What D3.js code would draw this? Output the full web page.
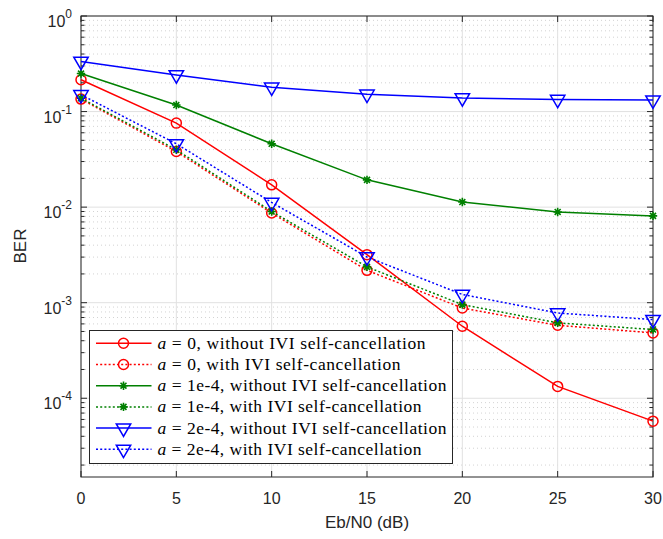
<!DOCTYPE html>
<html><head><meta charset="utf-8">
<script src="https://cdn.jsdelivr.net/npm/d3@7"></script>
<style>body{margin:0;background:#fff}svg{display:block}</style>
</head><body><svg id="c" width="663" height="539"></svg>
<script>
const snr = [0, 5, 10, 15, 20, 25, 30];
const a0Without = [0.215, 0.0757, 0.0171, 0.00318, 5.67e-4, 1.33e-4, 5.76e-5];
const a0With    = [0.135, 0.0382, 0.00867, 0.00218, 8.8e-4, 5.8e-4, 4.83e-4];
const a1Without = [0.25, 0.117, 0.046, 0.0193, 0.0113, 0.0089, 0.0081];
const a1With    = [0.138, 0.0398, 0.0090, 0.00237, 9.55e-4, 6.15e-4, 5.24e-4];
const a2Without = [0.335, 0.242, 0.18, 0.152, 0.139, 0.134, 0.132];
const a2With    = [0.15, 0.046, 0.0112, 0.00301, 0.00122, 7.8e-4, 6.66e-4];
const xTicks = [0, 5, 10, 15, 20, 25, 30];
const yTickExps = [0, -1, -2, -3, -4];
const legendLabels = [
  ["a", " = 0, without IVI self-cancellation"],
  ["a", " = 0, with IVI self-cancellation"],
  ["a", " = 1e-4, without IVI self-cancellation"],
  ["a", " = 1e-4, with IVI self-cancellation"],
  ["a", " = 2e-4, without IVI self-cancellation"],
  ["a", " = 2e-4, with IVI self-cancellation"]
];

const series = [
  {v: a0Without, color: "#ff0000", dash: null, marker: "o"},
  {v: a0With, color: "#ff0000", dash: "2,2.2", marker: "o"},
  {v: a1Without, color: "#008000", dash: null, marker: "*"},
  {v: a1With, color: "#008000", dash: "2,2.2", marker: "*"},
  {v: a2Without, color: "#0000ff", dash: null, marker: "v"},
  {v: a2With, color: "#0000ff", dash: "2,2.2", marker: "v"}
];

const L = 81, R = 653, T = 16, B = 477;
const svg = d3.select("#c");
const x = d3.scaleLinear().domain([0, 30]).range([L, R]);
const y = d3.scaleLog().domain([1.5e-5, 1]).range([B, T]);
const axisCol = "#262626";
const sans = "'Liberation Sans', Arial, Helvetica, sans-serif";
const serif = "'Liberation Serif', 'Times New Roman', serif";

const minors = [];
for (let e = -5; e < 0; e++) for (let m = 2; m <= 9; m++) {
  const v = m * Math.pow(10, e);
  if (v >= 1.5e-5 && v < 1) minors.push(v);
}
const grid = svg.append("g");
grid.selectAll(".mg").data(minors).join("line")
  .attr("x1", L).attr("x2", R).attr("y1", d => y(d)).attr("y2", d => y(d))
  .attr("stroke", "#c8c8c8").attr("stroke-width", 0.8).attr("stroke-dasharray", "1,3");
grid.selectAll(".Mg").data(yTickExps).join("line")
  .attr("x1", L).attr("x2", R).attr("y1", d => y(Math.pow(10, d))).attr("y2", d => y(Math.pow(10, d)))
  .attr("stroke", "#e1e1e1").attr("stroke-width", 1);
grid.selectAll(".xg").data(xTicks).join("line")
  .attr("x1", d => x(d)).attr("x2", d => x(d)).attr("y1", T).attr("y2", B)
  .attr("stroke", "#e1e1e1").attr("stroke-width", 1);

const ax = svg.append("g").attr("stroke", axisCol).attr("stroke-width", 1);
yTickExps.forEach(e => {
  const yy = y(Math.pow(10, e));
  ax.append("line").attr("x1", L).attr("x2", L + 6).attr("y1", yy).attr("y2", yy);
  ax.append("line").attr("x1", R).attr("x2", R - 6).attr("y1", yy).attr("y2", yy);
});
minors.forEach(v => {
  const yy = y(v);
  ax.append("line").attr("x1", L).attr("x2", L + 3.5).attr("y1", yy).attr("y2", yy);
  ax.append("line").attr("x1", R).attr("x2", R - 3.5).attr("y1", yy).attr("y2", yy);
});
xTicks.forEach(t => {
  const xx = x(t);
  ax.append("line").attr("x1", xx).attr("x2", xx).attr("y1", B).attr("y2", B - 6);
  ax.append("line").attr("x1", xx).attr("x2", xx).attr("y1", T).attr("y2", T + 6);
});
ax.append("rect").attr("x", L).attr("y", T).attr("width", R - L).attr("height", B - T).attr("fill", "none");

const xl = svg.append("g").attr("font-family", sans).attr("font-size", 16).attr("fill", axisCol);
xl.selectAll("text").data(xTicks).join("text")
  .attr("x", d => x(d)).attr("y", B + 27).attr("text-anchor", "middle").text(d => d);
const yl = svg.append("g").attr("font-family", sans).attr("fill", axisCol);
yTickExps.forEach(e => {
  const yy = y(Math.pow(10, e));
  const t = yl.append("text").attr("x", 72).attr("y", yy + 11).attr("text-anchor", "end").attr("font-size", 16);
  t.append("tspan").text("10");
  t.append("tspan").attr("font-size", 12).attr("dy", -9).text(e === 0 ? "0" : "-" + (-e));
});
svg.append("text").attr("x", (L + R) / 2).attr("y", 528).attr("text-anchor", "middle")
  .attr("font-family", sans).attr("font-size", 17).attr("fill", axisCol).text("Eb/N0 (dB)");
svg.append("text").attr("transform", "translate(26,246) rotate(-90)").attr("text-anchor", "middle")
  .attr("font-family", sans).attr("font-size", 17).attr("fill", axisCol).text("BER");

function drawMarker(g, type, cx, cy, color) {
  if (type === "o") {
    g.append("circle").attr("cx", cx).attr("cy", cy).attr("r", 5).attr("fill", "none")
      .attr("stroke", color).attr("stroke-width", 1.5);
  } else if (type === "v") {
    g.append("path").attr("d", d3.symbol().type(d3.symbolTriangle).size(90)())
      .attr("transform", `translate(${cx},${cy}) rotate(180)`)
      .attr("fill", "none").attr("stroke", color).attr("stroke-width", 1.5);
  } else {
    const r = 4.2, d = r * 0.7071;
    const p = `M${-r},0L${r},0M0,${-r}L0,${r}M${-d},${-d}L${d},${d}M${-d},${d}L${d},${-d}`;
    g.append("path").attr("d", p).attr("transform", `translate(${cx},${cy})`)
      .attr("stroke", color).attr("stroke-width", 1.6).attr("fill", "none");
  }
}

const line = d3.line().x((d, i) => x(snr[i])).y(d => y(d));
const plot = svg.append("g");
series.forEach(s => {
  const g = plot.append("g");
  g.append("path").attr("d", line(s.v)).attr("fill", "none").attr("stroke", s.color)
    .attr("stroke-width", 1.5).attr("stroke-dasharray", s.dash);
  s.v.forEach((v, i) => drawMarker(g, s.marker, x(snr[i]), y(v), s.color));
});

const lg = svg.append("g");
lg.append("rect").attr("x", 89.5).attr("y", 330.5).attr("width", 363).attr("height", 133)
  .attr("fill", "#fff").attr("stroke", axisCol).attr("stroke-width", 1);
const legendWidths = [268, 243, 289, 264, 289, 264];
series.forEach((s, i) => {
  const yy = 343.3 + i * 21.2;
  lg.append("line").attr("x1", 96).attr("x2", 151.5).attr("y1", yy).attr("y2", yy)
    .attr("stroke", s.color).attr("stroke-width", 1.5).attr("stroke-dasharray", s.dash);
  drawMarker(lg, s.marker, 123.5, yy, s.color);
  const t = lg.append("text").attr("x", 157.5).attr("y", yy + 5.5).attr("font-family", serif)
    .attr("font-size", 17.5).attr("fill", "#000")
    .attr("textLength", legendWidths[i]).attr("lengthAdjust", "spacing");
  t.append("tspan").attr("font-style", "italic").text(legendLabels[i][0]);
  t.append("tspan").text(legendLabels[i][1]);
});
</script></body></html>
